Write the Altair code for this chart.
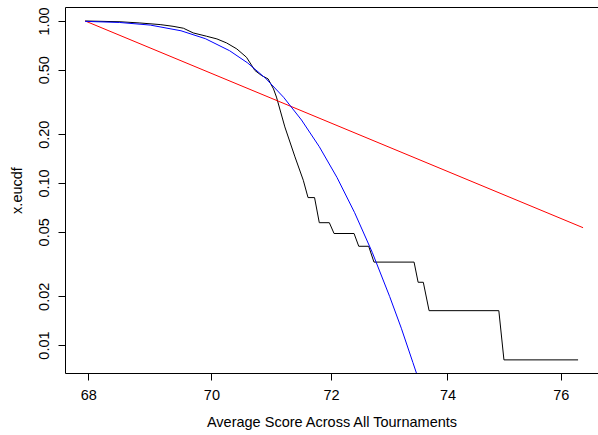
import altair as alt
import pandas as pd

# Empirical (black) curve vertices
black_x = [67.95, 68.51, 68.83, 69.16, 69.37, 69.54, 69.70, 69.92, 70.09, 70.25,
           70.42, 70.58, 70.72, 70.83, 70.94, 71.03, 71.08, 71.22, 71.39, 71.53,
           71.61, 71.72, 71.80, 71.97, 72.05, 72.39, 72.47, 72.64, 72.73, 73.42,
           73.49, 73.58, 73.68, 74.90, 74.99, 76.31]
black_y = [1.000, 0.989, 0.972, 0.950, 0.927, 0.902, 0.844, 0.805, 0.775, 0.732,
           0.672, 0.597, 0.495, 0.461, 0.439, 0.381, 0.339, 0.222, 0.145, 0.104,
           0.0813, 0.0813, 0.0569, 0.0569, 0.0488, 0.0488, 0.0407, 0.0407, 0.0325, 0.0325,
           0.0244, 0.0244, 0.0163, 0.0163, 0.0081, 0.0081]

# Fitted (blue) curve
blue_x = [67.95, 68.5, 69.0, 69.5, 69.9, 70.3, 70.6, 70.9, 71.2, 71.5,
          71.8, 72.1, 72.4, 72.7, 73.0, 73.2, 73.4, 73.5]
blue_y = [0.9944, 0.9791, 0.9432, 0.870, 0.7775, 0.6554, 0.5506, 0.4423, 0.338, 0.2448,
          0.1676, 0.1082, 0.0656, 0.0374, 0.0199, 0.0127, 0.0078, 0.0061]

# Power-law (red) line
red_x = [67.95, 76.4]
red_y = [1.0, 0.053]

x_ticks = [68, 70, 72, 74, 76]
y_ticks = [0.01, 0.02, 0.05, 0.1, 0.2, 0.5, 1.0]

FONT = "Liberation Sans"
FS = 14.5

frames = []
for name, xs, ys in [("empirical", black_x, black_y), ("power", red_x, red_y), ("normal", blue_x, blue_y)]:
    frames.append(pd.DataFrame({"x": xs, "y": ys, "i": list(range(len(xs))), "s": name}))
df = pd.concat(frames, ignore_index=True)

xscale = alt.Scale(type="log", domain=[67.628, 76.669], nice=False, zero=False)
yscale = alt.Scale(type="log", domain=[0.006722, 1.2197], nice=False, zero=False)

xaxis = alt.Axis(values=x_ticks, labelExpr="format(datum.value, 'd')",
                 title="Average Score Across All Tournaments",
                 grid=False, domain=False, ticks=True, tickSize=7, tickColor="black",
                 tickWidth=1, labelFont=FONT, labelFontSize=FS, labelColor="black",
                 labelBaseline="alphabetic", labelPadding=19, labelFlush=False,
                 titleFont=FONT, titleFontSize=FS, titleFontWeight="normal", titleColor="black",
                 titleBaseline="alphabetic", titleY=53, titleAnchor="middle")
yaxis = alt.Axis(values=y_ticks, labelExpr="format(datum.value, '.2f')",
                 title="x.eucdf",
                 grid=False, domain=False, ticks=True, tickSize=7, tickColor="black",
                 tickWidth=1, labelFont=FONT, labelFontSize=FS, labelColor="black",
                 labelAngle=270, labelAlign="center", labelBaseline="alphabetic",
                 labelPadding=10, labelFlush=False, labelOverlap=False,
                 titleFont=FONT, titleFontSize=FS, titleFontWeight="normal", titleColor="black",
                 titleAngle=270, titleAlign="center", titleBaseline="alphabetic",
                 titleX=-44, titleY=183)

chart = alt.Chart(df).mark_line(strokeWidth=1, clip=True).encode(
    x=alt.X("x:Q", scale=xscale, axis=xaxis),
    y=alt.Y("y:Q", scale=yscale, axis=yaxis),
    color=alt.Color("s:N", scale=alt.Scale(domain=["empirical", "power", "normal"],
                                           range=["#000000", "#FF0000", "#0000FF"]),
                    legend=None),
    order="i:Q",
).properties(
    width=533, height=366,
    padding={"left": 65, "top": 7, "right": 0, "bottom": 62},
    autosize="none",
    background="white",
).configure_view(stroke="black", strokeWidth=1)

chart.save("out.html", embed_options={"renderer": "svg", "actions": False})
